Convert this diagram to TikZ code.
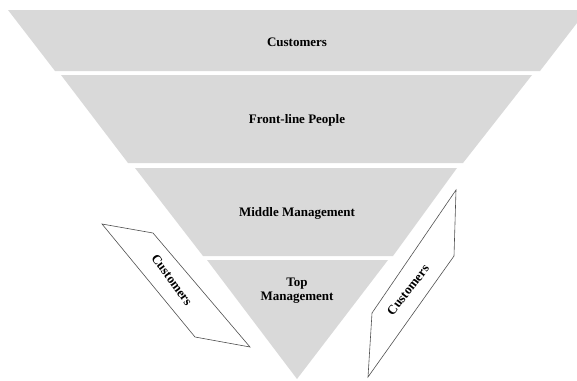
\documentclass[tikz,border=0pt]{standalone}
\usepackage{fontspec}
\setmainfont{Liberation Serif}
\begin{document}
\begin{tikzpicture}[x=1pt,y=-1pt,
  band/.style={fill=bandgrey,draw=none},
  lbl/.style={font=\fontsize{13}{15}\selectfont\bfseries,text=black,align=center,inner sep=0pt},
  para/.style={draw=paraline,line width=0.6pt,fill=white,line join=miter}]
\definecolor{bandgrey}{HTML}{D9D9D9}
\definecolor{paraline}{HTML}{505050}
\useasboundingbox (0,0) rectangle (577,380);
\clip (0,0) rectangle (577,380);
% bands of the inverted pyramid
\fill[band] (8,10) -- (587,10) -- (540,71) -- (55,71) -- cycle;
\fill[band] (61,75) -- (532,75) -- (463,163) -- (128,163) -- cycle;
\fill[band] (135,168) -- (457,168) -- (393,256) -- (203,256) -- cycle;
\fill[band] (207,260) -- (388,260) -- (297,379) -- cycle;
\node[lbl] (cust) at (297,42) {Customers};
\node[lbl] (front) at (297,120) {Front-line People};
\node[lbl] (middle) at (297,213) {Middle Management};
\node[lbl] (top) at (297,291) {Top\\[-1pt]Management};
% left parallelogram
\coordinate (l1) at (102,224);
\coordinate (l2) at (153,233);
\coordinate (l3) at (250,347);
\coordinate (l4) at (195,337);
\draw[para] (l1) -- (l2) -- (l3) -- (l4) -- cycle;
\node[lbl,rotate=-54] (lcust) at (172,280) {Customers};
% right parallelogram
\coordinate (r1) at (372,313);
\coordinate (r2) at (456,190);
\coordinate (r3) at (454,256);
\coordinate (r4) at (368,377);
\draw[para] (r1) -- (r2) -- (r3) -- (r4) -- cycle;
\node[lbl,rotate=52] (rcust) at (408,290) {Customers};
\end{tikzpicture}
\end{document}
